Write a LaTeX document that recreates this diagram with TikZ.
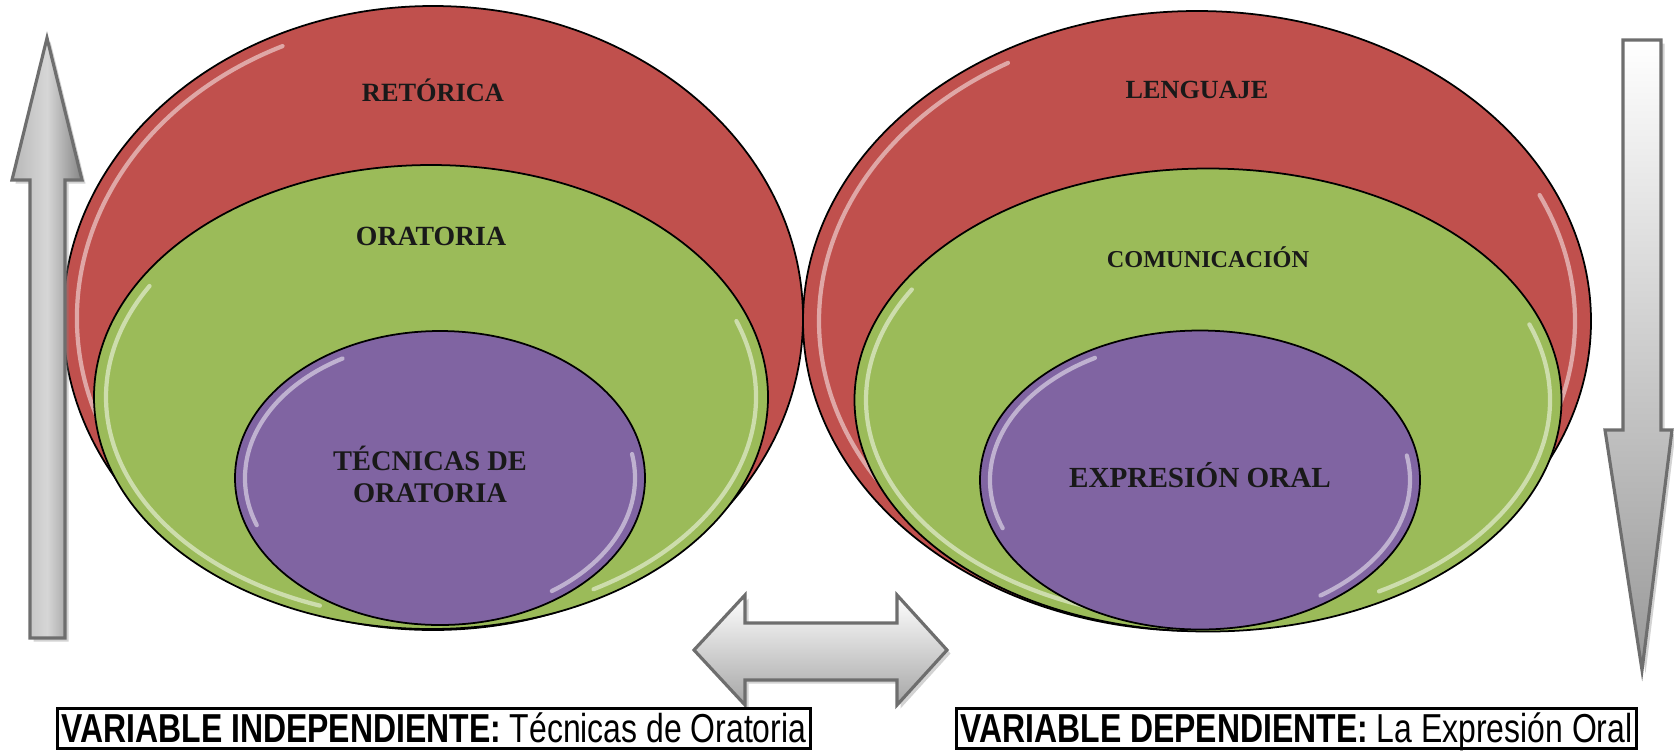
\documentclass[tikz,border=0pt]{standalone}
\usepackage{fontspec}
\setmainfont{Liberation Serif}
\newfontfamily\arialn[FakeStretch=0.79]{Liberation Sans}
\usetikzlibrary{shapes.geometric}
\usetikzlibrary{positioning}
\usetikzlibrary{shadows}
\definecolor{rojo}{HTML}{C0504D}
\definecolor{verde}{HTML}{9BBB59}
\definecolor{morado}{HTML}{8064A2}
\definecolor{borde}{HTML}{6E6E6E}

\begin{document}
\begin{tikzpicture}[
		capa/.style={ellipse,draw=black,line width=0.5pt,inner sep=0pt},
		brillo/.style={white,line width=1.2pt,opacity=0.5,line cap=round},
		flecha/.style={draw=borde,line width=0.9pt,line join=miter,
			drop shadow={shadow xshift=0.35mm,shadow yshift=-0.35mm,opacity=0.35}},
		texto/.style={inner sep=0pt,text=black!90},
		tam/.style={font=\bfseries\fontsize{#1}{9.1}\selectfont},
		caja/.style={draw=black,line width=0.8pt,inner xsep=1.2pt,inner ysep=0pt,
			text height=9.5pt,text depth=1.8pt,
			font=\arialn\fontsize{11.5}{12}\selectfont}]
	\useasboundingbox (0,0) rectangle (16.74,7.52);
	
	% --- variable independiente
	\node[capa,fill=rojo,minimum width=7.40cm,minimum height=6.24cm] (retorica) at (4.33,4.34) {};
	\draw[brillo] ([shift={(115:3.56 and 3.0)}]retorica.center) arc[start angle=115,end angle=235,x radius=3.56,y radius=3.0];
	\node[capa,fill=verde,minimum width=6.74cm,minimum height=4.64cm] (oratoria) at (4.31,3.55) {};
	\draw[brillo] ([shift={(150:3.25 and 2.22)}]oratoria.center) arc[start angle=150,end angle=250,x radius=3.25,y radius=2.22];
	\draw[brillo] ([shift={(-60:3.25 and 2.22)}]oratoria.center) arc[start angle=-60,end angle=20,x radius=3.25,y radius=2.22];
	\node[capa,fill=morado,minimum width=4.10cm,minimum height=2.94cm] (tecnicas) at (4.40,2.74) {};
	\draw[brillo] ([shift={(120:1.95 and 1.38)}]tecnicas.center) arc[start angle=120,end angle=200,x radius=1.95,y radius=1.38];
	\draw[brillo] ([shift={(-55:1.95 and 1.38)}]tecnicas.center) arc[start angle=-55,end angle=10,x radius=1.95,y radius=1.38];
	
	\node[texto,tam=7.5] (tretorica) at ([yshift=-0.85cm]retorica.north) {RETÓRICA};
	\node[texto,tam=7.9] (toratoria) at ([yshift=-0.72cm]oratoria.north) {ORATORIA};
	\node[texto,tam=8.1,align=center] (ttecnicas) at ([xshift=-1mm,yshift=0.4mm]tecnicas.center) {TÉCNICAS DE\\ORATORIA};
	
	% --- variable dependiente
	\node[capa,fill=rojo,minimum width=7.88cm,minimum height=6.20cm] (lenguaje) at (11.97,4.31) {};
	\draw[brillo] ([shift={(120:3.78 and 2.98)}]lenguaje.center) arc[start angle=120,end angle=230,x radius=3.78,y radius=2.98];
	\draw[brillo] ([shift={(-40:3.78 and 2.98)}]lenguaje.center) arc[start angle=-40,end angle=25,x radius=3.78,y radius=2.98];
	\node[capa,fill=verde,minimum width=7.07cm,minimum height=4.63cm] (comunicacion) at (12.08,3.52) {};
	\draw[brillo] ([shift={(150:3.42 and 2.21)}]comunicacion.center) arc[start angle=150,end angle=250,x radius=3.42,y radius=2.21];
	\draw[brillo] ([shift={(-60:3.42 and 2.21)}]comunicacion.center) arc[start angle=-60,end angle=20,x radius=3.42,y radius=2.21];
	\node[capa,fill=morado,minimum width=4.40cm,minimum height=2.99cm] (expresion) at (12.00,2.72) {};
	\draw[brillo] ([shift={(120:2.1 and 1.41)}]expresion.center) arc[start angle=120,end angle=200,x radius=2.1,y radius=1.41];
	\draw[brillo] ([shift={(-55:2.1 and 1.41)}]expresion.center) arc[start angle=-55,end angle=10,x radius=2.1,y radius=1.41];
	
	\node[texto,tam=7.45] (tlenguaje) at ([yshift=-0.80cm]lenguaje.north) {LENGUAJE};
	\node[texto,tam=6.9] (tcomunicacion) at ([yshift=-0.90cm]comunicacion.north) {COMUNICACIÓN};
	\node[texto,tam=8.3] (texpresion) at ([yshift=0.5mm]expresion.center) {EXPRESIÓN ORAL};
	
	% --- flechas
	\path[flecha,left color=black!28,right color=black!48,middle color=black!16]
		(0.30,1.14) -- (0.30,5.72) -- (0.12,5.72) -- (0.47,7.14) -- (0.82,5.72)
		-- (0.65,5.72) -- (0.65,1.14) -- cycle;
	\path[flecha,top color=white,bottom color=black!40]
		(16.23,7.12) -- (16.61,7.12) -- (16.61,3.22) -- (16.72,3.22) -- (16.42,0.82)
		-- (16.05,3.22) -- (16.23,3.22) -- cycle;
	\path[flecha,top color=white,bottom color=black!35]
		(6.94,1.02) -- (7.45,1.57) -- (7.45,1.29) -- (8.97,1.29) -- (8.97,1.57)
		-- (9.47,1.02) -- (8.97,0.47) -- (8.97,0.72) -- (7.45,0.72) -- (7.45,0.47) -- cycle;
	
	% --- variables
	\node[caja,anchor=south west] (vindep) at (0.56,0.02)
		{\textbf{VARIABLE INDEPENDIENTE:} Técnicas de Oratoria};
	\node[caja,anchor=south west] (vdep) at (9.55,0.02)
		{\textbf{VARIABLE DEPENDIENTE:} La Expresión Oral};
\end{tikzpicture}
\end{document}
